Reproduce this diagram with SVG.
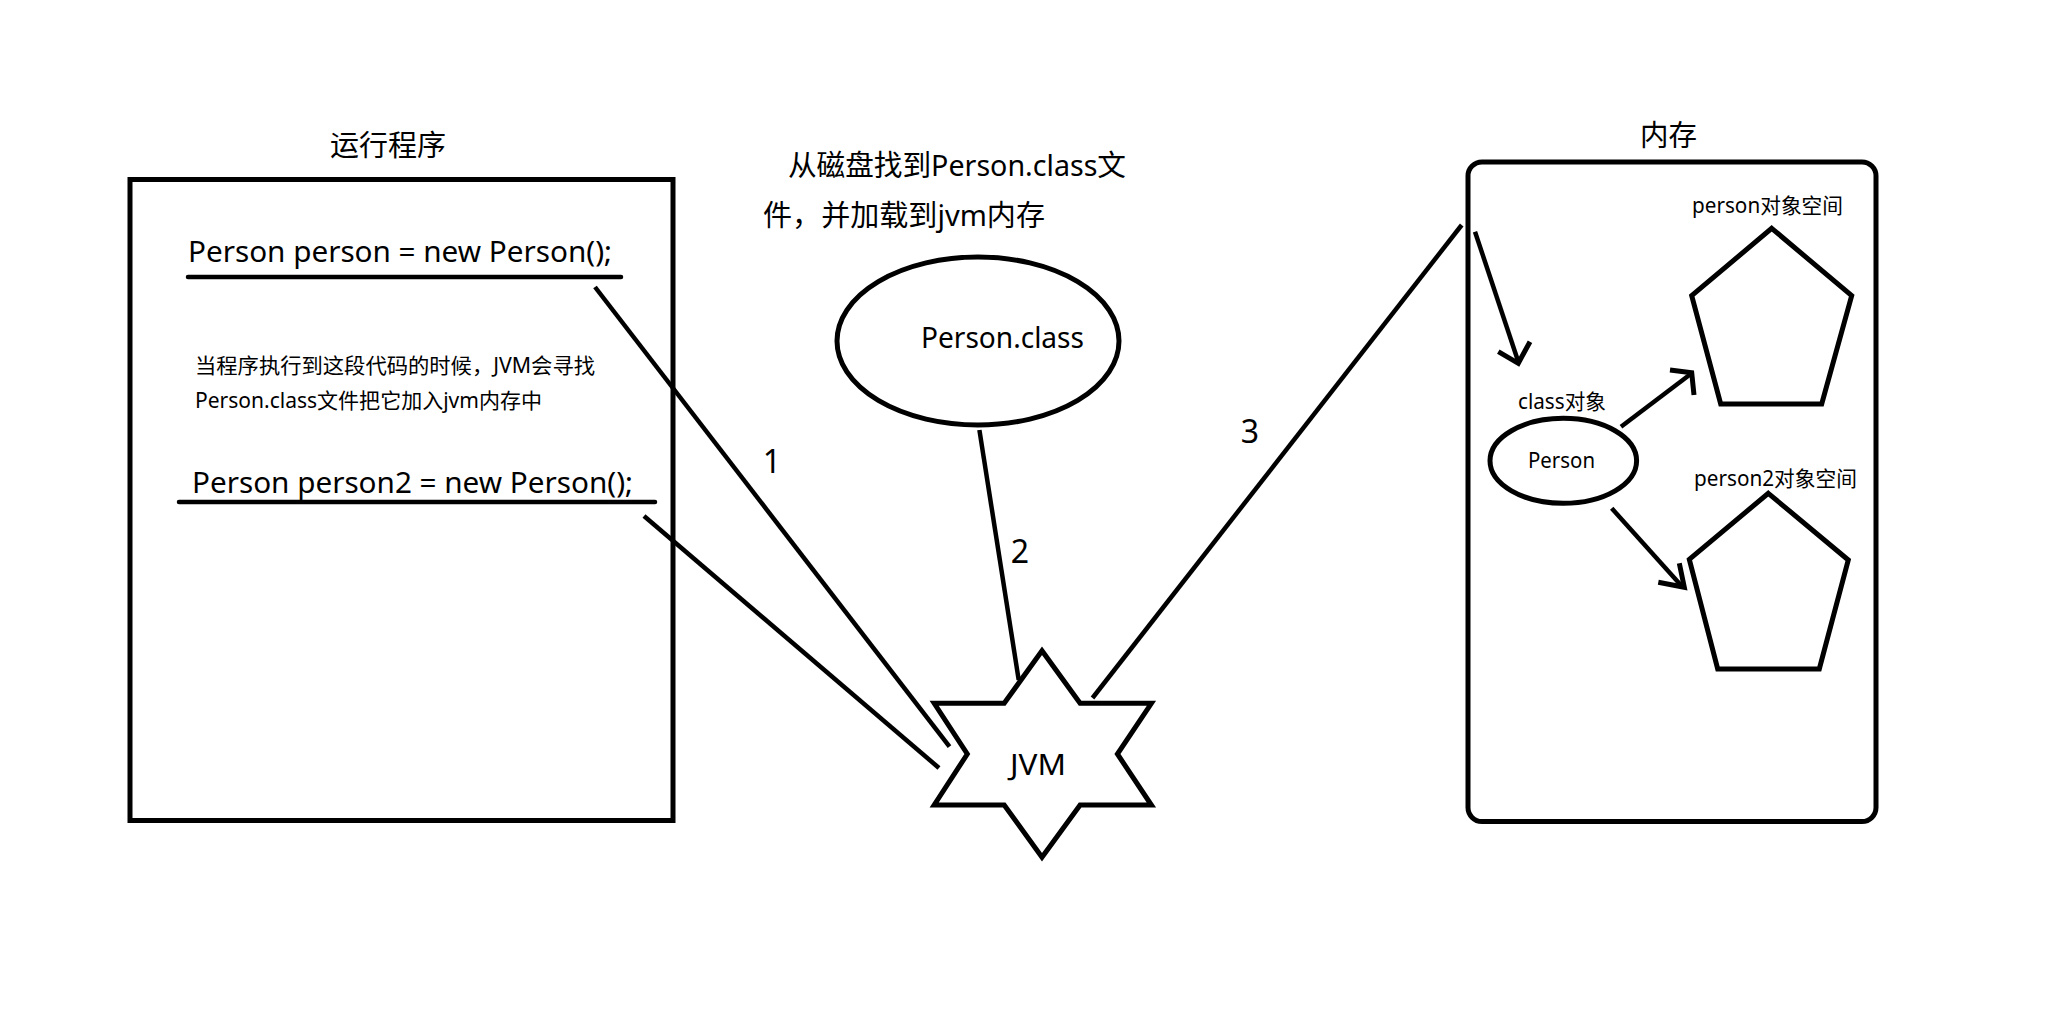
<svg xmlns="http://www.w3.org/2000/svg" width="2065" height="1016" viewBox="0 0 2065 1016">
<style>
.bg{fill:#ffffff}
.sh{fill:#ffffff;stroke:#000000;stroke-width:5}
.ln{fill:none;stroke:#000000;stroke-width:4.5;stroke-linecap:butt}
.ul{fill:none;stroke:#000000;stroke-width:4.5;stroke-linecap:round}
.ar{fill:none;stroke:#000000;stroke-width:5;stroke-linecap:butt;stroke-linejoin:miter}
text{font-family:"Noto Sans","Noto Sans CJK SC",sans-serif;fill:#000000}
.t29{font-size:29px}
.t21{font-size:21px}
.t22{font-size:22px}
.num{font-size:32px;text-anchor:middle}
</style>
<rect class="bg" x="0" y="0" width="2065" height="1016"/>

<g id="program">
  <text class="t29" x="330" y="156" textLength="116" lengthAdjust="spacingAndGlyphs">运行程序</text>
  <rect class="sh" x="130" y="179.5" width="543" height="641"/>
  <text class="t29" x="188" y="262" textLength="424" lengthAdjust="spacingAndGlyphs">Person person = new Person();</text>
  <line class="ul" x1="188" y1="277" x2="621" y2="277"/>
  <text class="t21" x="195" y="373" textLength="400" lengthAdjust="spacingAndGlyphs">当程序执行到这段代码的时候，JVM会寻找</text>
  <text class="t21" x="195" y="408" textLength="347" lengthAdjust="spacingAndGlyphs">Person.class文件把它加入jvm内存中</text>
  <text class="t29" x="192" y="493" textLength="441" lengthAdjust="spacingAndGlyphs">Person person2 = new Person();</text>
  <line class="ul" x1="179" y1="502" x2="655" y2="502"/>
</g>

<g id="disk-note">
  <text class="t29" x="788" y="176" textLength="338" lengthAdjust="spacingAndGlyphs">从磁盘找到Person.class文</text>
  <text class="t29" x="763" y="226" textLength="282" lengthAdjust="spacingAndGlyphs">件，并加载到jvm内存</text>
</g>

<g id="person-class">
  <ellipse class="sh" cx="978" cy="341" rx="141" ry="84"/>
  <text class="t29" x="921" y="348" textLength="163" lengthAdjust="spacingAndGlyphs">Person.class</text>
</g>

<g id="jvm">
  <polygon class="sh" stroke-linejoin="miter" points="1042,650.7 1080.1,703.3 1151.4,703.3 1117.4,754 1151.4,805 1080.1,805 1042,857.3 1004.2,805 934.2,805 967.3,754 934.2,703.3 1004.2,703.3"/>
  <text class="t29" x="1010" y="775" font-size="30" textLength="56" lengthAdjust="spacingAndGlyphs">JVM</text>
</g>

<g id="memory">
  <text class="t29" x="1640" y="146" textLength="57" lengthAdjust="spacingAndGlyphs">内存</text>
  <rect class="sh" x="1468" y="162" width="408" height="659.5" rx="14" ry="14"/>
</g>

<g id="class-object">
  <text class="t21" x="1518" y="409" textLength="88" lengthAdjust="spacingAndGlyphs">class对象</text>
  <ellipse class="sh" cx="1563.3" cy="460.8" rx="73.3" ry="42.5"/>
  <text class="t22" x="1528" y="468" textLength="67" lengthAdjust="spacingAndGlyphs">Person</text>
</g>

<g id="person-space">
  <text class="t21" x="1692" y="213" textLength="151" lengthAdjust="spacingAndGlyphs">person对象空间</text>
  <polygon class="sh" stroke-linejoin="miter" points="1771.7,228.3 1851.7,295.7 1821.7,404 1720.7,404 1691.7,295.7"/>
</g>

<g id="person2-space">
  <text class="t21" x="1694" y="486" textLength="163" lengthAdjust="spacingAndGlyphs">person2对象空间</text>
  <polygon class="sh" stroke-linejoin="miter" points="1768.3,493.3 1848.3,560 1819.3,669 1717.7,669 1689.3,559.3"/>
</g>

<g id="connectors">
  <line class="ln" x1="595" y1="287" x2="949.5" y2="746.7"/>
  <line class="ln" x1="644" y1="516" x2="939" y2="768"/>
  <line class="ln" x1="979.4" y1="430" x2="1018.7" y2="680"/>
  <line class="ln" x1="1092.5" y1="698" x2="1461.7" y2="225"/>
  <line class="ln" x1="1475" y1="231.7" x2="1518.3" y2="361.7"/>
  <polyline class="ar" points="1498.3,351.7 1518.3,363.3 1530,341.7"/>
  <line class="ln" x1="1621" y1="426.7" x2="1691.7" y2="373.3"/>
  <polyline class="ar" points="1670,370 1691.7,372.7 1694,395"/>
  <line class="ln" x1="1611.7" y1="508.3" x2="1682.3" y2="586.7"/>
  <polyline class="ar" points="1658.3,582.3 1684.3,587.3 1679.3,563.3"/>
  <text class="num" x="772" y="473">1</text>
  <text class="num" x="1020" y="563">2</text>
  <text class="num" x="1250" y="443">3</text>
</g>
</svg>
